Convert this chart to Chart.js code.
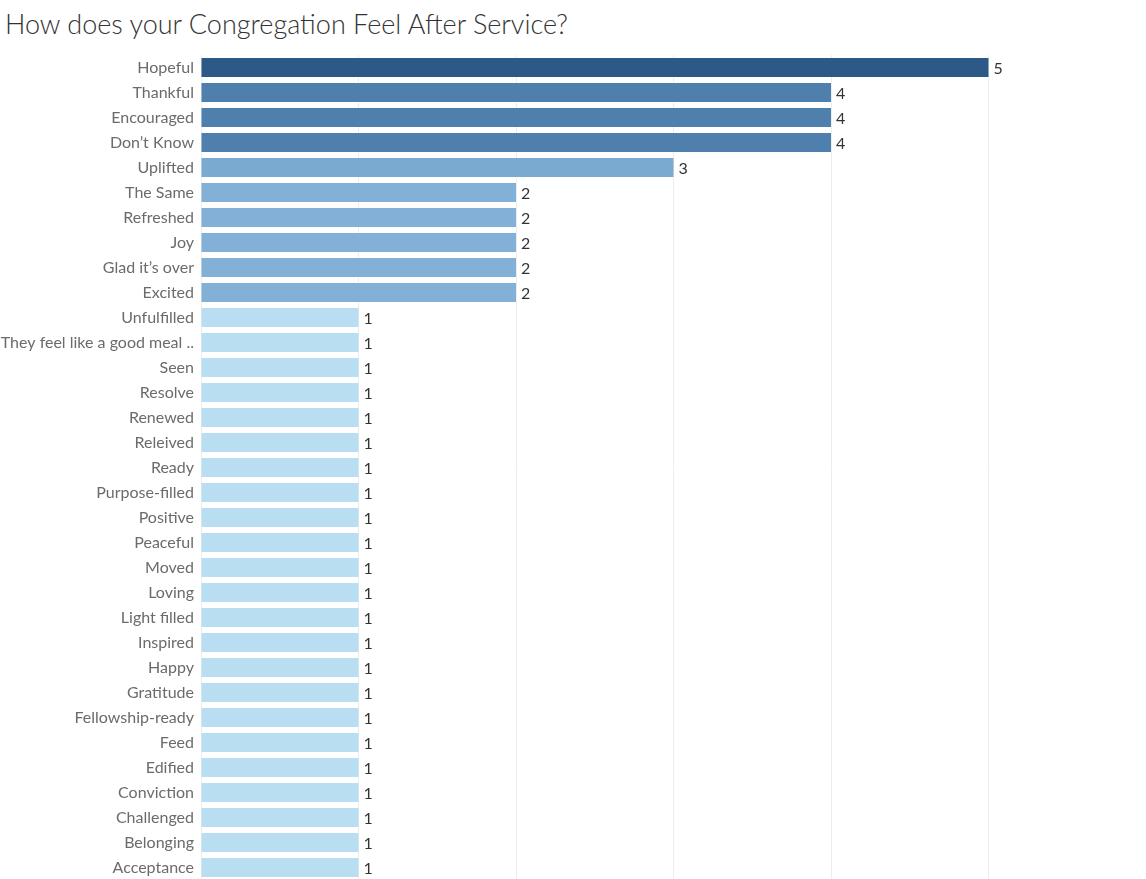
<!DOCTYPE html>
<html>
<head>
<meta charset="utf-8">
<script src="https://cdn.jsdelivr.net/npm/chart.js@4.4.1/dist/chart.umd.min.js"></script>
<style>
  html, body { margin: 0; padding: 0; background: #fff; }
  #wrap { position: relative; width: 1146px; height: 879px; overflow: hidden; }
  #title { position: absolute; left: 5px; top: 7px; font-family: Lato, 'Open Sans', sans-serif; font-weight: 300; font-size: 27px; color: #333; white-space: nowrap; }
  canvas { position: absolute; left: 0; top: 0; }
</style>
</head>
<body>
<div id="wrap">
  <div id="title">How does your Congregation Feel After Service?</div>
  <canvas id="chart" width="1146" height="880"></canvas>
</div>
<script>
const feelings = [
  'Hopeful', 'Thankful', 'Encouraged', 'Don’t Know', 'Uplifted', 'The Same', 'Refreshed', 'Joy',
  'Glad it’s over', 'Excited', 'Unfulfilled', 'They feel like a good meal ..', 'Seen', 'Resolve',
  'Renewed', 'Releived', 'Ready', 'Purpose-filled', 'Positive', 'Peaceful', 'Moved', 'Loving',
  'Light filled', 'Inspired', 'Happy', 'Gratitude', 'Fellowship-ready', 'Feed', 'Edified',
  'Conviction', 'Challenged', 'Belonging', 'Acceptance'
];
const counts = [5, 4, 4, 4, 3, 2, 2, 2, 2, 2, 1, 1, 1, 1, 1, 1, 1, 1, 1, 1, 1, 1, 1, 1, 1, 1, 1, 1, 1, 1, 1, 1, 1];
const shadeByCount = { 5: '#2c5985', 4: '#4e7fad', 3: '#7aaad0', 2: '#82b0d6', 1: '#b9ddf1' };

// value labels at the end of each bar
const valueLabels = {
  id: 'valueLabels',
  afterDatasetsDraw(chart) {
    const { ctx } = chart;
    const meta = chart.getDatasetMeta(0);
    ctx.save();
    ctx.font = '16px Lato, "Open Sans", sans-serif';
    ctx.fillStyle = '#333';
    ctx.textBaseline = 'middle';
    meta.data.forEach((bar, i) => {
      ctx.fillText(String(counts[i]), bar.x + 5, bar.y + 1);
    });
    ctx.restore();
  }
};

new Chart(document.getElementById('chart'), {
  type: 'bar',
  data: {
    labels: feelings,
    datasets: [{
      data: counts,
      backgroundColor: counts.map((v) => shadeByCount[v]),
      categoryPercentage: 1,
      barPercentage: 0.76
    }]
  },
  options: {
    indexAxis: 'y',
    responsive: false,
    animation: false,
    layout: { padding: { top: 55, right: 0, bottom: 0, left: 0 } },
    plugins: { legend: { display: false }, tooltip: { enabled: false } },
    scales: {
      x: {
        min: 0,
        max: 6,
        ticks: { display: false, stepSize: 1 },
        grid: { color: '#ededed', drawTicks: false },
        border: { display: true, color: '#ededed' },
        afterFit(scale) { scale.height = 0; }
      },
      y: {
        ticks: { color: '#6b6b6b', padding: 7, font: { size: 16, family: 'Lato, "Open Sans", sans-serif' }, autoSkip: false },
        grid: { display: false, drawTicks: false },
        border: { display: true, color: '#ededed' },
        afterFit(scale) {
          scale.width = 201;
          scale.paddingTop = 0;
          scale.paddingBottom = 0;
        }
      }
    }
  },
  plugins: [valueLabels]
});
</script>
</body>
</html>
